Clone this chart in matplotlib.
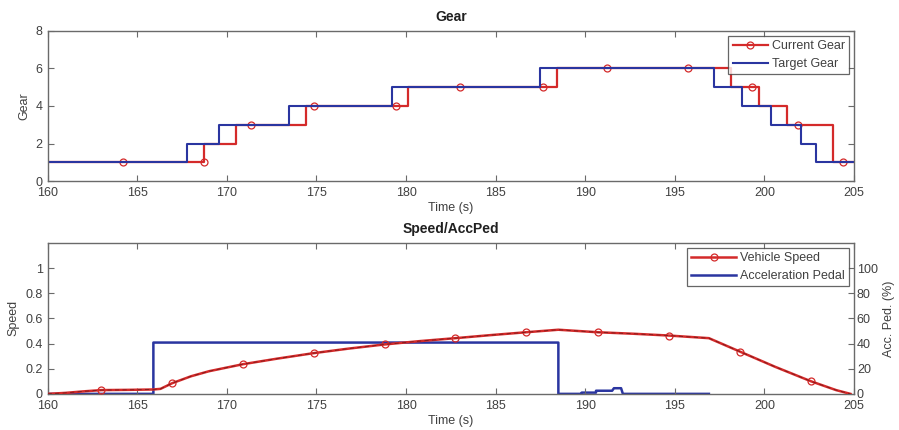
import numpy as np
import matplotlib
matplotlib.use("Agg")
import matplotlib.pyplot as plt

plt.rcParams['font.family'] = ['Liberation Sans', 'DejaVu Sans']

# ---------------- data ----------------
cur_gear_t = [160.0, 168.72, 170.5, 174.41, 180.12, 188.44, 198.13, 199.71, 201.27, 203.8, 205.0]
cur_gear_v = [1, 2, 3, 4, 5, 6, 5, 4, 3, 1, 1]
cur_mark_t = [164.2, 168.72, 171.35, 174.86, 179.45, 183.0, 187.62, 191.2, 195.75, 199.3, 201.9, 204.4]
cur_mark_v = [1, 1, 3, 4, 4, 5, 5, 6, 6, 5, 3, 1]

tgt_gear_t = [160.0, 167.76, 169.56, 173.48, 179.2, 187.47, 197.2, 198.76, 200.35, 202.04, 202.9, 205.0]
tgt_gear_v = [1, 2, 3, 4, 5, 6, 5, 4, 3, 2, 1, 1]

speed_t = [160.0, 161.0, 162.0, 163.0, 164.5, 165.9, 166.3, 166.95, 168.0, 169.0, 170.9, 172.8,
           174.85, 176.8, 178.8, 180.8, 182.75, 184.7, 186.7, 188.5, 190.7, 192.7, 194.65, 196.9,
           198.65, 200.6, 202.6, 204.0, 204.8]
speed_v = [0.0, 0.008, 0.02, 0.03, 0.032, 0.035, 0.04, 0.085, 0.14, 0.18, 0.236, 0.28,
           0.324, 0.36, 0.393, 0.42, 0.443, 0.467, 0.49, 0.51, 0.49, 0.478, 0.464, 0.443,
           0.335, 0.215, 0.10, 0.03, 0.0]
speed_mark_idx = [3, 7, 10, 12, 14, 16, 18, 20, 22, 24, 26]

pedal_t = [160.0, 165.9, 165.9, 188.5, 188.5, 189.8, 189.8, 190.6, 190.6, 191.5, 191.6, 192.0, 192.1, 196.9]
pedal_v = [0.0, 0.0, 40.8, 40.8, 0.0, 0.0, 1.0, 1.0, 2.5, 2.5, 4.5, 4.5, 0.0, 0.0]

x_ticks = [160, 165, 170, 175, 180, 185, 190, 195, 200, 205]
gear_ticks = [0, 2, 4, 6, 8]
speed_ticks = [0, 0.2, 0.4, 0.6, 0.8, 1]
pedal_ticks = [0, 20, 40, 60, 80, 100]

# ---------------- style ----------------
RED = '#d42a2a'
BLUE = '#2a35a0'
SPINE = '#6a6a6a'
TXT = '#404040'

fig = plt.figure(figsize=(8.99, 4.30), dpi=100)

def style_axes(ax):
    for s in ax.spines.values():
        s.set_color(SPINE)
        s.set_linewidth(1.0)
    ax.tick_params(direction='in', length=4, width=0.8, colors=SPINE, labelcolor=TXT,
                   labelsize=9, top=True, right=True)

# top axes
ax1 = fig.add_axes([0.053, 0.579, 0.897, 0.349])
l_cur, = ax1.step(cur_gear_t, cur_gear_v, where='post', color=RED, lw=1.6)
m_cur, = ax1.plot(cur_mark_t, cur_mark_v, 'o', color=RED, mfc='none', ms=5, mew=0.9)
l_tgt, = ax1.step(tgt_gear_t, tgt_gear_v, where='post', color=BLUE, lw=1.5)
ax1.set_xlim(160, 205)
ax1.set_ylim(0, 8)
ax1.set_xticks(x_ticks)
ax1.set_yticks(gear_ticks)
style_axes(ax1)
ax1.tick_params(axis='x', pad=4.5)
ax1.set_xlabel('Time (s)', fontsize=9, color=TXT, labelpad=2)
ax1.set_ylabel('Gear', fontsize=9, color=TXT, labelpad=4)
ax1.set_title('Gear', fontsize=10, fontweight='bold', color='#202020', pad=7)
leg1 = ax1.legend([(l_cur, m_cur), l_tgt], ['Current Gear', 'Target Gear'], loc='upper right',
                  fontsize=9, frameon=True, fancybox=False, borderpad=0.35, labelspacing=0.45,
                  handlelength=2.8, handletextpad=0.3, borderaxespad=0.4)
leg1.get_frame().set_edgecolor('#404040')
leg1.get_frame().set_linewidth(0.9)
for t in leg1.get_texts():
    t.set_color(TXT)

# bottom axes
ax2 = fig.add_axes([0.053, 0.084, 0.897, 0.351])
l_spd, = ax2.plot(speed_t, speed_v, color=RED, lw=1.8, marker='o', mfc='none', ms=5, mew=0.9,
                  markevery=speed_mark_idx, zorder=3)
ax2.plot(speed_t, speed_v, color='#7a1a1a', lw=0.6, ls=(0, (5, 4)), zorder=4)
ax2.set_xlim(160, 205)
ax2.set_ylim(0, 1.2)
ax2.set_xticks(x_ticks)
ax2.set_yticks(speed_ticks)
ax2.set_yticklabels(['0', '0.2', '0.4', '0.6', '0.8', '1'])
style_axes(ax2)
ax2.tick_params(right=False)
ax2.tick_params(axis='x', pad=4.5)
ax2.set_xlabel('Time (s)', fontsize=9, color=TXT, labelpad=2)
ax2.set_ylabel('Speed', fontsize=9, color=TXT, labelpad=4)
ax2.set_title('Speed/AccPed', fontsize=10, fontweight='bold', color='#202020', pad=7)

ax3 = ax2.twinx()
l_ped, = ax3.plot(pedal_t, pedal_v, color=BLUE, lw=1.8, zorder=2)
ax3.set_ylim(0, 120)
ax3.set_yticks(pedal_ticks)
for s in ax3.spines.values():
    s.set_visible(False)
ax3.tick_params(direction='in', length=4, width=0.8, colors=SPINE, labelcolor=TXT, labelsize=9,
                pad=2)
ax3.set_ylabel('Acc. Ped. (%)', fontsize=9, color=TXT, labelpad=4)
ax2.set_zorder(ax3.get_zorder() + 1)
ax2.patch.set_visible(False)

leg2 = ax2.legend([l_spd, l_ped], ['Vehicle Speed', 'Acceleration Pedal'], loc='upper right',
                  fontsize=9, frameon=True, fancybox=False, borderpad=0.35, labelspacing=0.45,
                  handlelength=3.6, handletextpad=0.3, borderaxespad=0.4)
leg2.get_frame().set_edgecolor('#404040')
leg2.get_frame().set_linewidth(0.9)
for t in leg2.get_texts():
    t.set_color(TXT)

fig.savefig('out.png', dpi=100, facecolor='white')
